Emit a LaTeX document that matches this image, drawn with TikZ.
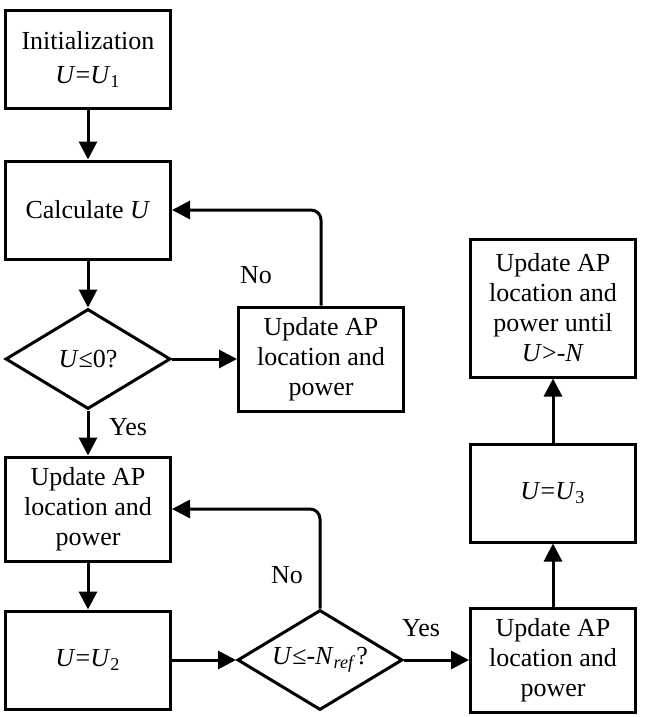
\documentclass[tikz,border=0pt]{standalone}
\usepackage{fontspec}
\setmainfont{Liberation Serif}
\usetikzlibrary{arrows.meta,positioning,shapes.geometric}
\tikzset{
  block/.style={
    draw=black,
    line width=1.5pt,
    minimum width=82.5pt,
    minimum height=49pt,
    align=center,
    inner sep=2pt,
    font=\fontsize{13}{15}\selectfont
  },
  update/.style={block, minimum height=52pt},
  decision/.style={
    diamond,
    draw=black,
    line width=1.5pt,
    aspect=1.7,
    inner sep=0pt,
    minimum width=82.5pt,
    minimum height=50pt,
    font=\fontsize{13}{15}\selectfont
  },
  flow/.style={-{Triangle[length=9pt,width=9pt]}, line width=1.5pt},
  loopback/.style={flow, rounded corners=5pt},
  answer/.style={inner sep=0pt, font=\fontsize{13}{15}\selectfont}
}

\begin{document}
\begin{tikzpicture}[x=0.5pt, y=-0.5pt]
  \useasboundingbox (0,0) rectangle (657,717);
  % left column
  \node[block] (init) at (88,59.5) {Initialization\\[2pt]\textit{U}=\textit{U}\textsubscript{1}};
  \node[block] (calc) at (88,210) {Calculate \textit{U}};
  \node[decision] (dec1) at (88,359) {\textit{U}≤0?};
  \node[update] (upd1) at (321,359) {Update AP\\location and\\power};
  \node[update] (upd2) at (88,509) {Update AP\\location and\\power};
  \node[block] (u2) at (88,660) {\textit{U}=\textit{U}\textsubscript{2}};
  \node[decision] (dec2) at (320,660) {\textit{U}≤-\textit{N}\textsubscript{\textit{ref}}?};
  % right column
  \node[update] (upd3) at (553,660) {Update AP\\location and\\power};
  \node[block] (u3) at (553,493) {\textit{U}=\textit{U}\textsubscript{3}};
  \node[block, minimum height=69pt] (upd4) at (553,308) {Update AP\\location and\\power until\\\textit{U}>-\textit{N}};

  \draw[flow] (init) -- (calc);
  \draw[flow] (calc) -- (dec1);
  \draw[flow] (dec1) -- (upd1);
  \draw[loopback] (upd1.north) |- (calc.east);
  \draw[flow] (dec1) -- (upd2);
  \draw[flow] (upd2) -- (u2);
  \draw[flow] (u2) -- (dec2);
  \draw[loopback] (dec2.north) |- (upd2.east);
  \draw[flow] (dec2) -- (upd3);
  \draw[flow] (upd3) -- (u3);
  \draw[flow] (u3) -- (upd4);

  \node[answer] (no1) at (256,275) {No};
  \node[answer] (yes1) at (128,427) {Yes};
  \node[answer] (no2) at (287,575) {No};
  \node[answer] (yes2) at (421,628) {Yes};
\end{tikzpicture}
\end{document}
